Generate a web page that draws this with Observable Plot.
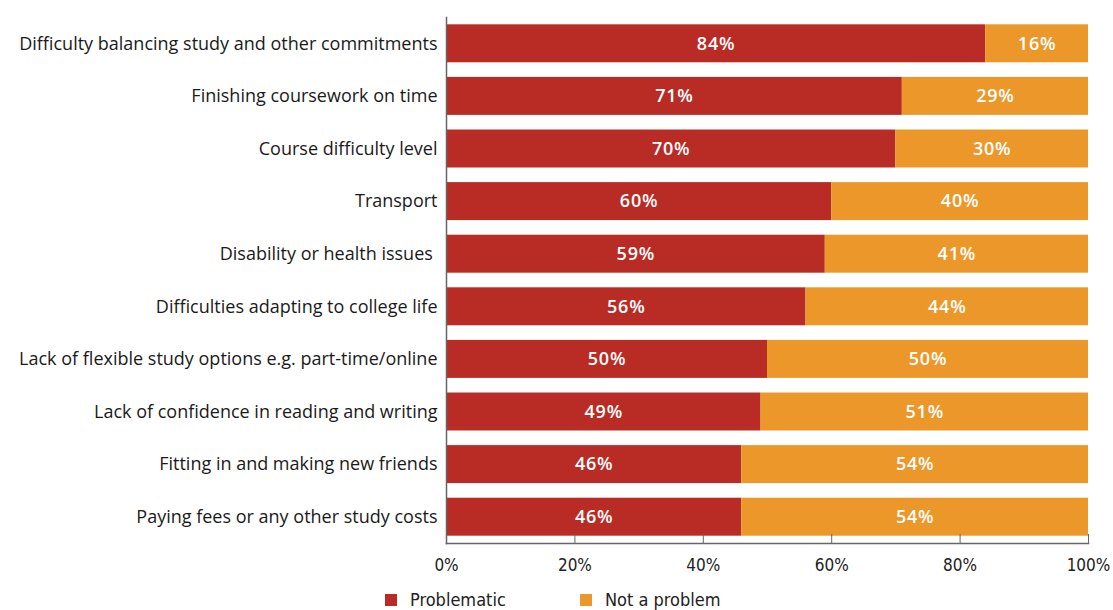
<!DOCTYPE html>
<html><head><meta charset="utf-8">
<script src="https://cdn.jsdelivr.net/npm/d3@7"></script>
<script src="https://cdn.jsdelivr.net/npm/@observablehq/plot@0.6"></script>
<style>
body{margin:0;background:#fff;font-family:"Open Sans",sans-serif;}
#legend{position:relative;height:25px;font-size:18px;color:#222;font-family:"DejaVu Sans Condensed","DejaVu Sans",sans-serif;font-stretch:condensed;}
.item{position:absolute;top:4px;display:flex;align-items:center;}
.sw{width:12px;height:12px;display:inline-block;margin-right:13px;}
g.barlabels text{letter-spacing:0.8px;}
</style></head>
<body><div id="chart"></div>
<div id="legend"></div>
<script>
const categories = [
  "Difficulty balancing study and other commitments",
  "Finishing coursework on time",
  "Course difficulty level",
  "Transport",
  "Disability or health issues ",
  "Difficulties adapting to college life",
  "Lack of flexible study options e.g. part-time/online",
  "Lack of confidence in reading and writing",
  "Fitting in and making new friends",
  "Paying fees or any other study costs"
];
const problematic = [84, 71, 70, 60, 59, 56, 50, 49, 46, 46];
const notAProblem = [16, 29, 30, 40, 41, 44, 50, 51, 54, 54];
const seriesNames = ["Problematic", "Not a problem"];
const colors = ["#B92B25", "#EC9729"];
const xTicks = [0, 20, 40, 60, 80, 100];

const rows = [];
categories.forEach((c, i) => {
  rows.push({cat: c, series: seriesNames[0], x1: 0, x2: problematic[i], v: problematic[i]});
  rows.push({cat: c, series: seriesNames[1], x1: problematic[i], x2: problematic[i] + notAProblem[i], v: notAProblem[i]});
});

const plot = Plot.plot({
  width: 1113,
  height: 585,
  marginLeft: 446,
  marginRight: 25,
  marginTop: 17,
  marginBottom: 42,
  style: {fontFamily: "'Open Sans', sans-serif", fontSize: "18px", color: "#1a1a1a", background: "#fff"},
  x: {domain: [0, 100]},
  y: {domain: categories, paddingInner: 0.278, paddingOuter: 0.139, round: false},
  color: {domain: seriesNames, range: colors},
  marks: [
    Plot.barX(rows, {x1: "x1", x2: "x2", y: "cat", fill: "series"}),
    Plot.text(rows, {x: d => (d.x1 + d.x2) / 2, y: "cat", text: d => d.v + "%", fill: "white", fontSize: 18, fontWeight: 600, className: "barlabels"}),
    Plot.axisX({ticks: xTicks, tickFormat: d => d + "%", tickSize: -9, tickPadding: 24, stroke: "#666", fontSize: 17, fill: "#222", label: null, fontFamily: "'DejaVu Sans Condensed', 'DejaVu Sans', sans-serif", fontStretch: "condensed"}),
    Plot.axisY({tickSize: 0, tickPadding: 9, fontSize: 18, label: null, fill: "#1a1a1a"}),
    Plot.frame({anchor: "bottom", stroke: "#666", strokeWidth: 1.5}),
    Plot.frame({anchor: "left", stroke: "#666", strokeWidth: 1.5})
  ]
});
document.getElementById("chart").appendChild(plot);

const legend = document.getElementById("legend");
const lx = [385, 580];
seriesNames.forEach((s, i) => {
  const it = document.createElement("div");
  it.className = "item";
  it.style.left = lx[i] + "px";
  it.innerHTML = `<span class="sw" style="background:${colors[i]}"></span><span>${s}</span>`;
  legend.appendChild(it);
});
</script></body></html>
